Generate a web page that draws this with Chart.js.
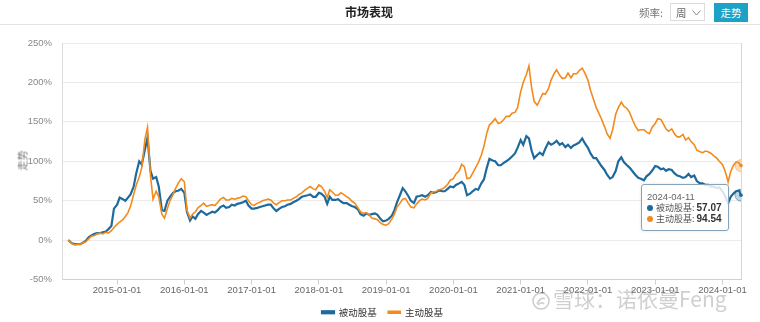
<!DOCTYPE html>
<html>
<head>
<meta charset="utf-8">
<title>市场表现</title>
<script src="https://cdn.jsdelivr.net/npm/chart.js@4.4.1/dist/chart.umd.min.js"></script>
<style>
  html, body { margin: 0; padding: 0; background: #fff; }
  #wrap { position: relative; width: 760px; height: 322px; overflow: hidden;
          font-family: "Noto Sans CJK SC", "Liberation Sans", sans-serif; }
  #chart { position: absolute; left: 0; top: 0; }
  #head { position: absolute; left: 0; top: 0; width: 760px; height: 24px; border-bottom: 1px solid #e3e3e3; z-index: 2; }
  #title { position: absolute; left: 345px; top: 3px; font-size: 12px; font-weight: bold; color: #222; }
  #freq { position: absolute; left: 639px; top: 5px; font-size: 10.5px; color: #777; }
  #sel { position: absolute; left: 670px; top: 3px; width: 35px; height: 18px; border: 1px solid #dcdcdc; box-sizing: border-box;
         font-size: 10.5px; color: #666; }
  #sel span { position: absolute; left: 5px; top: 1px; }
  #sel svg { position: absolute; left: 21px; top: 6px; }
  #btn { position: absolute; left: 714px; top: 3px; width: 34px; height: 19px; background: #1ba2c6; color: #fff;
         font-size: 10.5px; text-align: center; line-height: 19px; }
  #ytitle { position: absolute; left: 12px; top: 153px; font-size: 10px; color: #777; transform: rotate(-90deg); transform-origin: 50% 50%; }
  #tip { position: absolute; z-index: 3; background: rgba(255,255,255,0.82); border: 1px solid #86a3ba; border-radius: 3px;
         padding: 6px 6px 6px 5px; font-size: 9px; color: #555; white-space: nowrap; box-shadow: 0 0 3px rgba(0,0,0,0.12); }
  #tip .t { font-family: "Liberation Sans", sans-serif; font-size: 9.5px; color: #666; line-height: 11px; }
  #tip .r { line-height: 11px; }
  #tip i { display: inline-block; width: 6px; height: 6px; border-radius: 50%; margin-right: 3px; vertical-align: 0px; }
  #tip b { font-family: "Liberation Sans", sans-serif; font-size: 10px; color: #333; }
  #mark { position: absolute; left: 532px; top: 286px; z-index: 2; color: rgba(140,140,140,0.42); font-size: 21px; line-height: 24px; white-space: nowrap; }
  #mark svg { vertical-align: -3px; margin-right: 3px; }
</style>
</head>
<body>
<div id="wrap">
  <canvas id="chart" width="760" height="322"></canvas>
  <div id="head">
    <div id="title">市场表现</div>
    <div id="freq">频率:</div>
    <div id="sel"><span>周</span><svg width="9" height="6" viewBox="0 0 9 6"><polyline points="0.5,0.5 4.5,5 8.5,0.5" fill="none" stroke="#888" stroke-width="1"/></svg></div>
    <div id="btn">走势</div>
  </div>
  <div id="ytitle">走势</div>
  <div id="mark"><svg width="18" height="18" viewBox="0 0 18 18"><circle cx="9" cy="9" r="8" fill="none" stroke="rgba(140,140,140,0.45)" stroke-width="1.5"/><path d="M5 12 Q9 4 13 7 M6 13 Q10 9 12 12" fill="none" stroke="rgba(140,140,140,0.45)" stroke-width="1.5"/></svg>雪球：诺依曼Feng</div>
  <div id="tip" style="opacity:0"></div>
</div>
<script>
// Samples on the 1st and 15th of each month, cumulative return in %
const dates = [
  '2014-04-11','2014-05-01','2014-05-15','2014-06-01','2014-06-15','2014-07-01','2014-07-15','2014-08-01','2014-08-15','2014-09-01','2014-09-15','2014-10-01','2014-10-15','2014-11-01','2014-11-15','2014-12-01','2014-12-15',
  '2015-01-01','2015-01-15','2015-02-01','2015-02-15','2015-03-01','2015-03-15','2015-04-01','2015-04-15','2015-05-01','2015-05-15','2015-06-01','2015-06-15','2015-07-01','2015-07-15','2015-08-01','2015-08-15','2015-09-01','2015-09-15','2015-10-01','2015-10-15','2015-11-01','2015-11-15','2015-12-01','2015-12-15',
  '2016-01-01','2016-01-15','2016-02-01','2016-02-15','2016-03-01','2016-03-15','2016-04-01','2016-04-15','2016-05-01','2016-05-15','2016-06-01','2016-06-15','2016-07-01','2016-07-15','2016-08-01','2016-08-15','2016-09-01','2016-09-15','2016-10-01','2016-10-15','2016-11-01','2016-11-15','2016-12-01','2016-12-15',
  '2017-01-01','2017-01-15','2017-02-01','2017-02-15','2017-03-01','2017-03-15','2017-04-01','2017-04-15','2017-05-01','2017-05-15','2017-06-01','2017-06-15','2017-07-01','2017-07-15','2017-08-01','2017-08-15','2017-09-01','2017-09-15','2017-10-01','2017-10-15','2017-11-01','2017-11-15','2017-12-01','2017-12-15',
  '2018-01-01','2018-01-15','2018-02-01','2018-02-15','2018-03-01','2018-03-15','2018-04-01','2018-04-15','2018-05-01','2018-05-15','2018-06-01','2018-06-15','2018-07-01','2018-07-15','2018-08-01','2018-08-15','2018-09-01','2018-09-15','2018-10-01','2018-10-15','2018-11-01','2018-11-15','2018-12-01','2018-12-15',
  '2019-01-01','2019-01-15','2019-02-01','2019-02-15','2019-03-01','2019-03-15','2019-04-01','2019-04-15','2019-05-01','2019-05-15','2019-06-01','2019-06-15','2019-07-01','2019-07-15','2019-08-01','2019-08-15','2019-09-01','2019-09-15','2019-10-01','2019-10-15','2019-11-01','2019-11-15','2019-12-01','2019-12-15',
  '2020-01-01','2020-01-15','2020-02-01','2020-02-15','2020-03-01','2020-03-15','2020-04-01','2020-04-15','2020-05-01','2020-05-15','2020-06-01','2020-06-15','2020-07-01','2020-07-15','2020-08-01','2020-08-15','2020-09-01','2020-09-15','2020-10-01','2020-10-15','2020-11-01','2020-11-15','2020-12-01','2020-12-15',
  '2021-01-01','2021-01-15','2021-02-01','2021-02-15','2021-03-01','2021-03-15','2021-04-01','2021-04-15','2021-05-01','2021-05-15','2021-06-01','2021-06-15','2021-07-01','2021-07-15','2021-08-01','2021-08-15','2021-09-01','2021-09-15','2021-10-01','2021-10-15','2021-11-01','2021-11-15','2021-12-01','2021-12-15',
  '2022-01-01','2022-01-15','2022-02-01','2022-02-15','2022-03-01','2022-03-15','2022-04-01','2022-04-15','2022-05-01','2022-05-15','2022-06-01','2022-06-15','2022-07-01','2022-07-15','2022-08-01','2022-08-15','2022-09-01','2022-09-15','2022-10-01','2022-10-15','2022-11-01','2022-11-15','2022-12-01','2022-12-15',
  '2023-01-01','2023-01-15','2023-02-01','2023-02-15','2023-03-01','2023-03-15','2023-04-01','2023-04-15','2023-05-01','2023-05-15','2023-06-01','2023-06-15','2023-07-01','2023-07-15','2023-08-01','2023-08-15','2023-09-01','2023-09-15','2023-10-01','2023-10-15','2023-11-01','2023-11-15','2023-12-01','2023-12-15',
  '2024-01-01','2024-01-15','2024-02-01','2024-02-15','2024-03-01','2024-03-15','2024-04-01','2024-04-11'
];

// 被动股基 (passive equity funds)
const passive = [
  0, -4, -5, -5, -5, -3, -1, 4, 6, 8, 9, 9, 10, 11, 14, 18, 40,
  45, 54, 52, 50, 54, 58, 68, 85, 100, 96, 115, 130, 88, 78, 80, 68, 38, 37, 50, 55, 60, 62, 63, 65,
  60, 36, 25, 30, 27, 33, 37, 35, 32, 34, 36, 35, 38, 42, 44, 41, 42, 45, 44, 46, 47, 48, 50, 44,
  40, 40, 41, 42, 43, 44, 45, 45, 40, 37, 40, 42, 43, 45, 46, 48, 50, 52, 55, 56, 57, 58, 55, 55,
  60, 59, 55, 46, 55, 51, 51, 52, 49, 47, 47, 45, 43, 42, 39, 33, 31, 34, 32, 33, 34, 32, 27, 24,
  25, 27, 31, 38, 48, 56, 66, 62, 56, 50, 47, 55, 56, 57, 55, 57, 61, 60, 61, 63, 62, 62, 65, 68,
  67, 70, 72, 74, 70, 57, 59, 62, 65, 64, 72, 77, 92, 103, 101, 100, 95, 95, 98, 100, 103, 106, 110, 117,
  127, 121, 132, 129, 114, 104, 108, 111, 108, 116, 124, 121, 123, 126, 121, 123, 118, 121, 117, 120, 122, 124, 129, 123,
  117, 110, 104, 104, 99, 94, 89, 83, 78, 80, 88, 100, 105, 99, 95, 92, 87, 83, 79, 78, 76, 81, 84, 88,
  94, 93, 90, 91, 88, 90, 89, 85, 82, 81, 79, 80, 84, 80, 82, 75, 72, 72, 70, 70, 68, 68, 66, 67,
  62, 56, 47, 55, 59, 62, 63, 57.07
];

// 主动股基 (active equity funds)
const active = [
  0, -4, -6, -5, -5, -3, -2, 2, 5, 6, 8, 9, 8, 10, 9, 12, 16,
  20, 23, 26, 30, 35, 43, 58, 70, 80, 92, 128, 143, 82, 52, 62, 55, 33, 28, 40, 50, 58, 66, 73, 78,
  74, 38, 28, 33, 36, 41, 44, 47, 43, 44, 45, 44, 48, 52, 54, 51, 51, 53, 52, 53, 54, 56, 55, 50,
  45, 44, 47, 48, 50, 51, 52, 51, 47, 45, 48, 50, 50, 51, 51, 53, 55, 58, 60, 63, 66, 68, 65, 64,
  70, 68, 62, 54, 64, 61, 57, 57, 60, 58, 55, 53, 49, 47, 41, 36, 34, 35, 32, 28, 27, 26, 22, 20,
  19, 21, 27, 33, 42, 46, 52, 53, 47, 42, 41, 46, 50, 52, 51, 53, 60, 61, 62, 64, 65, 67, 71, 76,
  78, 84, 88, 96, 93, 78, 79, 85, 92, 98, 108, 119, 136, 146, 150, 154, 148, 149, 153, 157, 157, 161, 162, 168,
  188, 200, 210, 221, 194, 176, 171, 178, 186, 185, 192, 203, 211, 216, 209, 205, 206, 212, 206, 211, 211, 215, 218, 212,
  203, 190, 178, 168, 161, 154, 144, 135, 129, 140, 160, 168, 175, 170, 167, 162, 152, 145, 139, 140, 140, 137, 135, 143,
  148, 154, 153, 147, 141, 138, 141, 135, 131, 131, 134, 127, 130, 125, 121, 114, 112, 111, 113, 112, 110, 107, 104, 100,
  96, 88, 74, 87, 95, 99, 98, 94.54
];

const seriesNames = ['被动股基', '主动股基'];
const yearTicks = ['2015-01-01','2016-01-01','2017-01-01','2018-01-01','2019-01-01','2020-01-01','2021-01-01','2022-01-01','2023-01-01','2024-01-01'];
const yTicks = [-50, 0, 50, 100, 150, 200, 250];
const axisStart = '2014-03-08';

const BLUE = '#1e6a9c';
const ORANGE = '#f38a1d';

// date string -> fractional year, so the x axis runs on real time
function yearFrac(s) {
  const [y, m, d] = s.split('-').map(Number);
  const t = Date.UTC(y, m - 1, d), t0 = Date.UTC(y, 0, 1), t1 = Date.UTC(y + 1, 0, 1);
  return y + (t - t0) / (t1 - t0);
}
const xs = dates.map(yearFrac);
const toPoints = vals => vals.map((v, i) => ({ x: xs[i], y: v }));

// vertical guide line at the hovered date, plus a small dot in each halo
const hoverGuide = {
  id: 'hoverGuide',
  beforeDatasetsDraw(chart) {
    const act = chart.getActiveElements();
    if (!act.length) return;
    const { ctx, chartArea } = chart;
    const x = Math.round(act[0].element.x) + 0.5;
    ctx.save();
    ctx.strokeStyle = '#d6d6d6';
    ctx.lineWidth = 1;
    ctx.beginPath();
    ctx.moveTo(x, chartArea.top);
    ctx.lineTo(x, chartArea.bottom);
    ctx.stroke();
    ctx.restore();
  },
  afterDatasetsDraw(chart) {
    const { ctx } = chart;
    chart.getActiveElements().forEach(a => {
      ctx.save();
      ctx.fillStyle = chart.data.datasets[a.datasetIndex].borderColor;
      ctx.beginPath();
      ctx.arc(a.element.x, a.element.y, 1.8, 0, Math.PI * 2);
      ctx.fill();
      ctx.restore();
    });
  }
};

function renderTip(context) {
  const { chart, tooltip } = context;
  const el = document.getElementById('tip');
  if (tooltip.opacity === 0 || !tooltip.dataPoints || !tooltip.dataPoints.length) { el.style.opacity = 0; return; }
  const pts = tooltip.dataPoints.slice().sort((a, b) => a.datasetIndex - b.datasetIndex);
  let html = '<div class="t">' + tooltip.title[0] + '</div>';
  pts.forEach(p => {
    const ds = chart.data.datasets[p.datasetIndex];
    html += '<div class="r"><i style="background:' + ds.borderColor + '"></i>' + ds.label + ': <b>' + p.parsed.y.toFixed(2) + '</b></div>';
  });
  el.innerHTML = html;
  el.style.opacity = 1;
  const w = el.offsetWidth;
  el.style.left = (tooltip.caretX - 12 - w) + 'px';
  el.style.top = (tooltip.caretY + 4) + 'px';
}

Chart.defaults.font.family = '"Noto Sans CJK SC", "Liberation Sans", sans-serif';

const chart = new Chart(document.getElementById('chart'), {
  type: 'line',
  data: {
    datasets: [
      {
        label: seriesNames[0], data: toPoints(passive), order: 1,
        borderColor: BLUE, backgroundColor: BLUE, borderWidth: 2.2,
        pointRadius: 0, pointHoverRadius: 6, pointHoverBorderWidth: 1,
        pointHoverBackgroundColor: 'rgba(30,106,156,0.28)', pointHoverBorderColor: 'rgba(30,106,156,0.45)'
      },
      {
        label: seriesNames[1], data: toPoints(active), order: 0,
        borderColor: ORANGE, backgroundColor: ORANGE, borderWidth: 1.6,
        pointRadius: 0, pointHoverRadius: 6, pointHoverBorderWidth: 1,
        pointHoverBackgroundColor: 'rgba(243,138,29,0.3)', pointHoverBorderColor: 'rgba(243,138,29,0.45)'
      }
    ]
  },
  options: {
    responsive: false,
    animation: false,
    events: [],
    layout: { padding: { left: 24, right: 19, top: 43, bottom: -5 } },
    interaction: { mode: 'index', intersect: false },
    scales: {
      x: {
        type: 'linear',
        min: yearFrac(axisStart),
        max: yearFrac(dates[dates.length - 1]),
        afterBuildTicks: s => { s.ticks = yearTicks.map(d => ({ value: yearFrac(d) })); },
        ticks: {
          autoSkip: false, maxRotation: 0, padding: 0, color: '#666',
          font: { family: '"Liberation Sans", sans-serif', size: 9.5 },
          callback: (v, i) => yearTicks[i]
        },
        grid: { drawOnChartArea: false, drawTicks: true, tickLength: 5, color: '#cfcfcf' },
        border: { color: '#cfcfcf' }
      },
      y: {
        min: -50, max: 250,
        afterFit: s => { s.width = 38; },
        afterBuildTicks: s => { s.ticks = yTicks.map(v => ({ value: v })); },
        ticks: {
          padding: 10, color: '#888',
          font: { family: '"Liberation Sans", sans-serif', size: 9.5 },
          callback: v => v + '%'
        },
        grid: { color: '#ebebeb', drawTicks: false },
        border: { color: '#dcdcdc' }
      }
    },
    plugins: {
      legend: {
        position: 'bottom',
        labels: {
          boxWidth: 12, boxHeight: 2, padding: 11.5, color: '#333', font: { size: 9.5 },
          sort: (a, b) => a.datasetIndex - b.datasetIndex
        }
      },
      tooltip: {
        enabled: false,
        external: renderTip,
        mode: 'index',
        intersect: false,
        callbacks: { title: items => dates[items[0].dataIndex] }
      }
    }
  },
  plugins: [hoverGuide]
});

// highlight the latest date
const lastIdx = dates.length - 1;
const activePts = [{ datasetIndex: 0, index: lastIdx }, { datasetIndex: 1, index: lastIdx }];
chart.setActiveElements(activePts);
chart.tooltip.setActiveElements(activePts, { x: 0, y: 0 });
chart.update();
</script>
</body>
</html>
